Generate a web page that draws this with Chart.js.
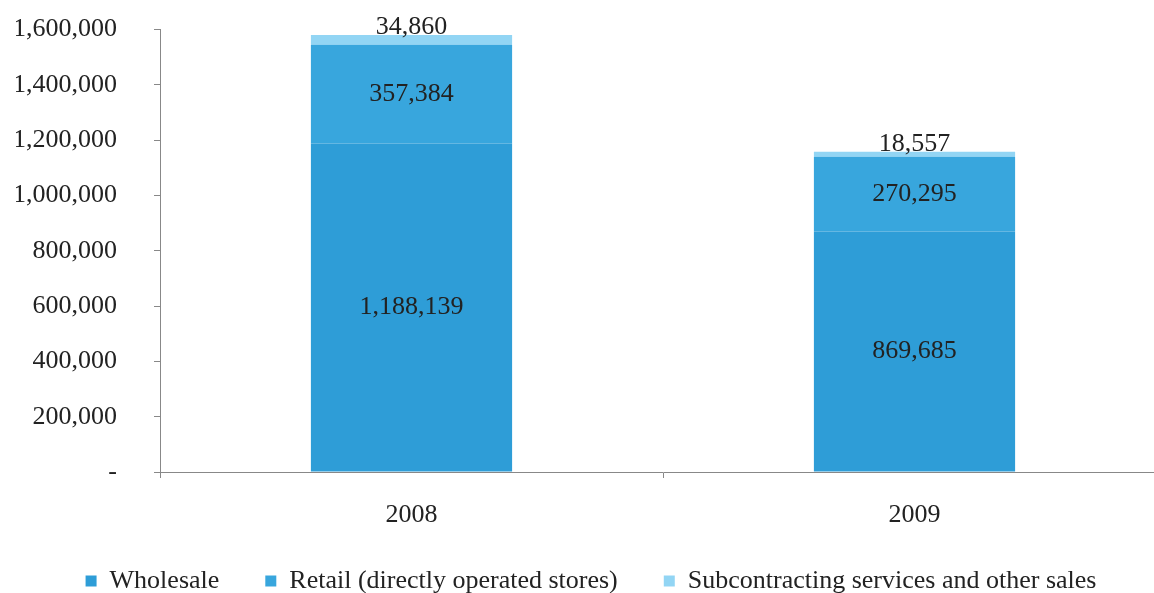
<!DOCTYPE html>
<html>
<head>
<meta charset="utf-8">
<title>Sales by channel</title>
<script src="https://cdn.jsdelivr.net/npm/chart.js@4.4.0/dist/chart.umd.min.js"></script>
<style>
html,body{margin:0;padding:0;overflow:hidden;background:#fff}
#wrap{position:absolute;left:0;top:-23px;width:1182px;height:627px}
</style>
</head>
<body>
<div id="wrap"><canvas id="salesChart"></canvas></div>
<script>
const years=["2008","2009"]
const wholesale=[1188139,869685]
const retail=[357384,270295]
const subcontracting=[34860,18557]
const seriesNames=["Wholesale","Retail (directly operated stores)","Subcontracting services and other sales"]
const seriesColors=["#2e9dd7","#38a6dd","#92d5f4"]
const yMax=1600000
const yStep=200000

const font={family:"'Liberation Serif','Times New Roman',serif",size:26}
const fmt=v=>v.toLocaleString("en-US")

// value labels: centred in the two big segments, sitting on top of the thin one
const segLabels={
    id:"segLabels",
    afterDatasetsDraw(chart){
        const ctx=chart.ctx
        ctx.save()
        ctx.font=font.size+"px "+font.family
        ctx.fillStyle="#222"
        ctx.textAlign="center"
        chart.data.datasets.forEach((ds,i)=>{
            const meta=chart.getDatasetMeta(i)
            meta.data.forEach((bar,j)=>{
                const txt=fmt(ds.data[j])
                if(i===2){
                    ctx.textBaseline="alphabetic"
                    ctx.fillText(txt,bar.x,bar.y-1)
                }else{
                    ctx.textBaseline="middle"
                    ctx.fillText(txt,bar.x,(bar.y+bar.base)/2)
                }
            })
        })
        ctx.restore()
    }
}

new Chart("salesChart",{
    type:"bar",
    data:{
        labels:years,
        datasets:[
            {label:seriesNames[0],data:wholesale,backgroundColor:seriesColors[0]},
            {label:seriesNames[1],data:retail,backgroundColor:seriesColors[1]},
            {label:seriesNames[2],data:subcontracting,backgroundColor:seriesColors[2]}
        ]
    },
    options:{
        responsive:true,
        maintainAspectRatio:false,
        animation:false,
        layout:{padding:{left:16,right:16,top:6,bottom:0}},
        datasets:{bar:{categoryPercentage:1,barPercentage:0.4}},
        scales:{
            x:{
                stacked:true,
                grid:{drawOnChartArea:false,tickLength:6,color:"#888"},
                border:{color:"#888"},
                ticks:{font:font,color:"#222",padding:22},
                afterFit(s){s.height=50}
            },
            y:{
                stacked:true,
                min:0,
                max:yMax,
                grid:{drawOnChartArea:false,tickLength:6,color:"#888"},
                border:{color:"#888"},
                ticks:{stepSize:yStep,font:font,color:"#222",padding:37,
                    callback:v=>v===0?"-":fmt(v)},
                afterFit(s){s.width=144}
            }
        },
        plugins:{
            legend:{
                position:"bottom",
                labels:{font:font,color:"#222",boxWidth:11,boxHeight:11,padding:46}
            },
            tooltip:{enabled:false}
        }
    },
    plugins:[segLabels]
})
</script>
</body>
</html>
